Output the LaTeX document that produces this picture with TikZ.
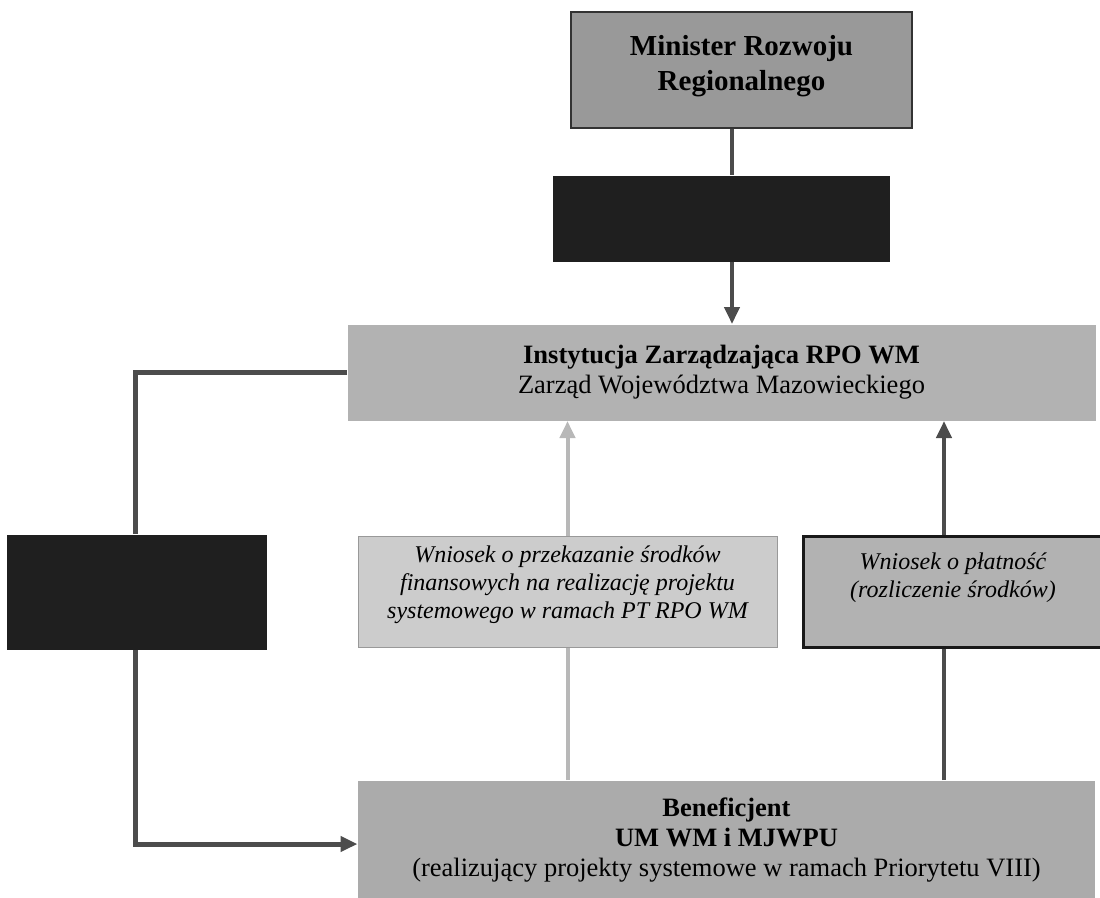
\documentclass[tikz,border=0pt]{standalone}
\usepackage{fontspec}
\setmainfont{Liberation Serif}
\usetikzlibrary{arrows,arrows.meta,positioning}

\begin{document}
\begin{tikzpicture}[x=1pt,y=-1pt,>={Triangle[length=17pt,width=15pt]},line width=4pt,
                    font=\fontsize{26.5}{30}\selectfont]
                  \tikzstyle{box}=[rectangle,inner sep=0pt,align=center,line width=1pt]
                  \tikzstyle{blind}=[box,fill=black!88]
                  \tikzstyle{request}=[box,font=\fontsize{24}{28}\selectfont\itshape,minimum height=111pt]
                  \tikzstyle{link}=[draw=black!70]
                  \tikzstyle{pale link}=[draw=black!28]

                  \useasboundingbox (0,0) rectangle (1100,897);

                  \node[box,fill=black!40,draw=black!80,line width=2pt,minimum width=341pt,minimum height=116pt,text depth=14pt,
                        font=\fontsize{29}{35}\selectfont\bfseries] (minister) at (741.5,70) {Minister Rozwoju\\Regionalnego};
                  \node[blind,minimum width=337pt,minimum height=86pt] (nadzor) [below=46pt of minister,xshift=-20pt] {};
                  \node[box,fill=black!30,minimum width=748pt,minimum height=96pt] (instytucja) [below=62pt of nadzor]
                        {\textbf{Instytucja Zarządzająca RPO WM}\\Zarząd Województwa Mazowieckiego};
                  \node[request,fill=black!20,draw=black!40,minimum width=419pt,text depth=19pt] (przekazanie)
                        [below=115pt of instytucja,xshift=-154pt]
                        {Wniosek o przekazanie środków\\finansowych na realizację projektu\\systemowego w ramach PT RPO WM};
                  \node[request,fill=black!30,draw=black!90,line width=3pt,minimum width=300pt,text depth=33pt] (platnosc)
                        [right=24pt of przekazanie]
                        {Wniosek o płatność\\(rozliczenie środków)};
                  \node[blind,minimum width=260pt,minimum height=115pt] (lewy) [left=90pt of przekazanie] {};
                  \node[box,fill=black!33,minimum width=737pt,minimum height=120pt] (beneficjent)
                        [below=132pt of przekazanie.south west,anchor=north west]
                        {\textbf{Beneficjent}\\\textbf{UM WM i MJWPU}\\(realizujący projekty systemowe w ramach Priorytetu VIII)};

                  \coordinate (mid) at (732,0);
                  \coordinate (pay) at (944,0);
                  \coordinate (turn) at (135,844);

                  \draw[link] (minister.south -| mid) -- (nadzor.north -| mid);
                  \draw[link,->] (nadzor.south -| mid) -- (instytucja.north -| mid);
                  \draw[link,line width=5pt] (instytucja.west) -| (lewy.north -| turn);
                  \draw[link,line width=5pt,->] (lewy.south -| turn) |- (beneficjent.west |- turn);
                  \draw[pale link] (beneficjent.north -| przekazanie) -- (przekazanie.south);
                  \draw[pale link,->] (przekazanie.north) -- (instytucja.south -| przekazanie);
                  \draw[link] (beneficjent.north -| pay) -- (platnosc.south -| pay);
                  \draw[link,->] (platnosc.north -| pay) -- (instytucja.south -| pay);
                \end{tikzpicture}
\end{document}
